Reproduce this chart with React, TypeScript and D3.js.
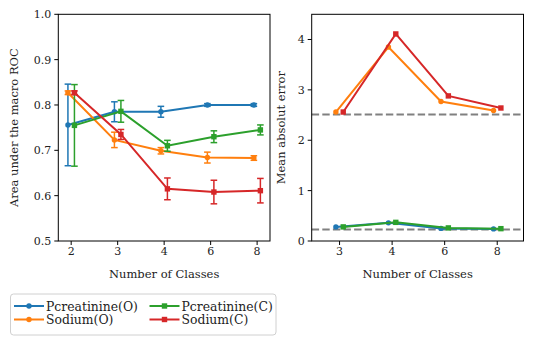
import React from "react"
import * as d3 from "d3"

// ---- data ----
const aucClasses = ["2", "3", "4", "6", "8"]
const maeClasses = ["3", "4", "6", "8"]
const seriesNames = ["Pcreatinine(O)", "Sodium(O)", "Pcreatinine(C)", "Sodium(C)"]
const seriesColors = ["#1f77b4", "#ff7f0e", "#2ca02c", "#d62728"]
const seriesMarkers = ["circle", "circle", "square", "square"]

const aucPcreO = [0.756, 0.785, 0.785, 0.8, 0.8]
const aucSodO = [0.827, 0.723, 0.699, 0.684, 0.683]
const aucPcreC = [0.755, 0.786, 0.71, 0.73, 0.745]
const aucSodC = [0.827, 0.735, 0.615, 0.608, 0.611]

const aucErrPcreO = [0.09, 0.022, 0.012, 0.003, 0.003]
const aucErrSodO = [0.004, 0.017, 0.007, 0.012, 0.005]
const aucErrPcreC = [0.09, 0.024, 0.012, 0.013, 0.011]
const aucErrSodC = [0.004, 0.011, 0.024, 0.026, 0.027]

const maePcreO = [0.28, 0.36, 0.25, 0.24]
const maeSodO = [2.56, 3.85, 2.77, 2.59]
const maePcreC = [0.28, 0.37, 0.26, 0.245]
const maeSodC = [2.56, 4.11, 2.88, 2.64]
const maeBaselines = [2.51, 0.23]

const aucTicks = [0.5, 0.6, 0.7, 0.8, 0.9, 1.0]
const maeTicks = [0, 1, 2, 3, 4]

const FONT = "'DejaVu Serif', serif"
const OFFSETS = [-0.07, -0.07, 0.07, 0.07]

const Marker = ({ kind, x, y, color }) =>
	kind === "circle" ? (
		<circle cx={x} cy={y} r={2.7} fill={color} />
	) : (
		<rect x={x - 2.7} y={y - 2.7} width={5.4} height={5.4} fill={color} />
	)

const Panel = ({ left, right, top, bottom, cats, xDomain, yDomain, yTicks, yFmt, series, errors, yLabel, yLabelX, hlines }) => {
	const x = d3.scaleLinear().domain(xDomain).range([left, right])
	const y = d3.scaleLinear().domain(yDomain).range([bottom, top])
	const line = d3.line()

	return (
		<g>
			{/* baseline dashed lines */}
			{(hlines || []).map((v, i) => (
				<line key={"h" + i} x1={left} x2={right} y1={y(v)} y2={y(v)} stroke="#808080" strokeWidth={2} strokeDasharray="7.4,3.2" />
			))}
			{series.map((vals, si) => {
				const pts = vals.map((v, i) => [x(i + OFFSETS[si]), y(v)])
				const color = seriesColors[si]
				return (
					<g key={si}>
						<path d={line(pts)} fill="none" stroke={color} strokeWidth={2} />
						{errors &&
							vals.map((v, i) => {
								const e = errors[si][i]
								const cx = x(i + OFFSETS[si])
								return (
									<g key={"e" + i} stroke={color} strokeWidth={1.5}>
										<line x1={cx} x2={cx} y1={y(v - e)} y2={y(v + e)} />
										<line x1={cx - 3.3} x2={cx + 3.3} y1={y(v - e)} y2={y(v - e)} />
										<line x1={cx - 3.3} x2={cx + 3.3} y1={y(v + e)} y2={y(v + e)} />
									</g>
								)
							})}
						{pts.map((p, i) => (
							<Marker key={"m" + i} kind={seriesMarkers[si]} x={p[0]} y={p[1]} color={color} />
						))}
					</g>
				)
			})}
			<rect x={left} y={top} width={right - left} height={bottom - top} fill="none" stroke="#000" strokeWidth={1} />
			{cats.map((c, i) => (
				<g key={"xt" + i}>
					<line x1={x(i)} x2={x(i)} y1={bottom} y2={bottom + 4} stroke="#000" />
					<text x={x(i)} y={bottom + 13.5} textAnchor="middle" fontSize={11} fontFamily={FONT} fill="#222">
						{c}
					</text>
				</g>
			))}
			{yTicks.map((t, i) => (
				<g key={"yt" + i}>
					<line x1={left - 4} x2={left} y1={y(t)} y2={y(t)} stroke="#000" />
					<text x={left - 7} y={y(t) + 4} textAnchor="end" fontSize={11} fontFamily={FONT} fill="#222">
						{yFmt(t)}
					</text>
				</g>
			))}
			<text x={(left + right) / 2} y={bottom + 37} textAnchor="middle" fontSize={11.5} fontFamily={FONT} fill="#222">
				Number of Classes
			</text>
			<text
				transform={`translate(${yLabelX},${(top + bottom) / 2}) rotate(-90)`}
				textAnchor="middle"
				fontSize={11.5}
				fontFamily={FONT}
				fill="#222"
			>
				{yLabel}
			</text>
		</g>
	)
}

const Legend = () => {
	const cols = [14, 149.5]
	const rows = [306, 319.5]
	return (
		<g>
			<rect x={10.5} y={294} width={265.5} height={41} rx={3} fill="#fff" fillOpacity={0.8} stroke="#d0d0d0" strokeWidth={1} />
			{seriesNames.map((name, i) => {
				const cx = cols[Math.floor(i / 2)]
				const cy = rows[i % 2]
				return (
					<g key={name}>
						<line x1={cx} x2={cx + 30} y1={cy} y2={cy} stroke={seriesColors[i]} strokeWidth={2} />
						<Marker kind={seriesMarkers[i]} x={cx + 15} y={cy} color={seriesColors[i]} />
						<text x={cx + 32} y={cy + 4.5} fontSize={12.4} fontFamily={FONT} fill="#222">
							{name}
						</text>
					</g>
				)
			})}
		</g>
	)
}

export default function App() {
	return (
		<svg width={534} height={345} style={{ position: "absolute", left: 0, top: 0, background: "#fff" }}>
			<Panel
				left={58.3}
				right={270}
				top={14.3}
				bottom={241}
				cats={aucClasses}
				xDomain={[-0.277, 4.277]}
				yDomain={[0.5, 1.0]}
				yTicks={aucTicks}
				yFmt={d3.format(".1f")}
				series={[aucPcreO, aucSodO, aucPcreC, aucSodC]}
				errors={[aucErrPcreO, aucErrSodO, aucErrPcreC, aucErrSodC]}
				yLabel="Area under the macro ROC"
				yLabelX={18}
			/>
			<Panel
				left={311.7}
				right={523.5}
				top={14.3}
				bottom={241}
				cats={maeClasses}
				xDomain={[-0.53, 3.5]}
				yDomain={[0, 4.5]}
				yTicks={maeTicks}
				yFmt={d3.format("d")}
				series={[maePcreO, maeSodO, maePcreC, maeSodC]}
				errors={null}
				yLabel="Mean absolut error"
				yLabelX={285}
				hlines={maeBaselines}
			/>
			<Legend />
		</svg>
	)
}
